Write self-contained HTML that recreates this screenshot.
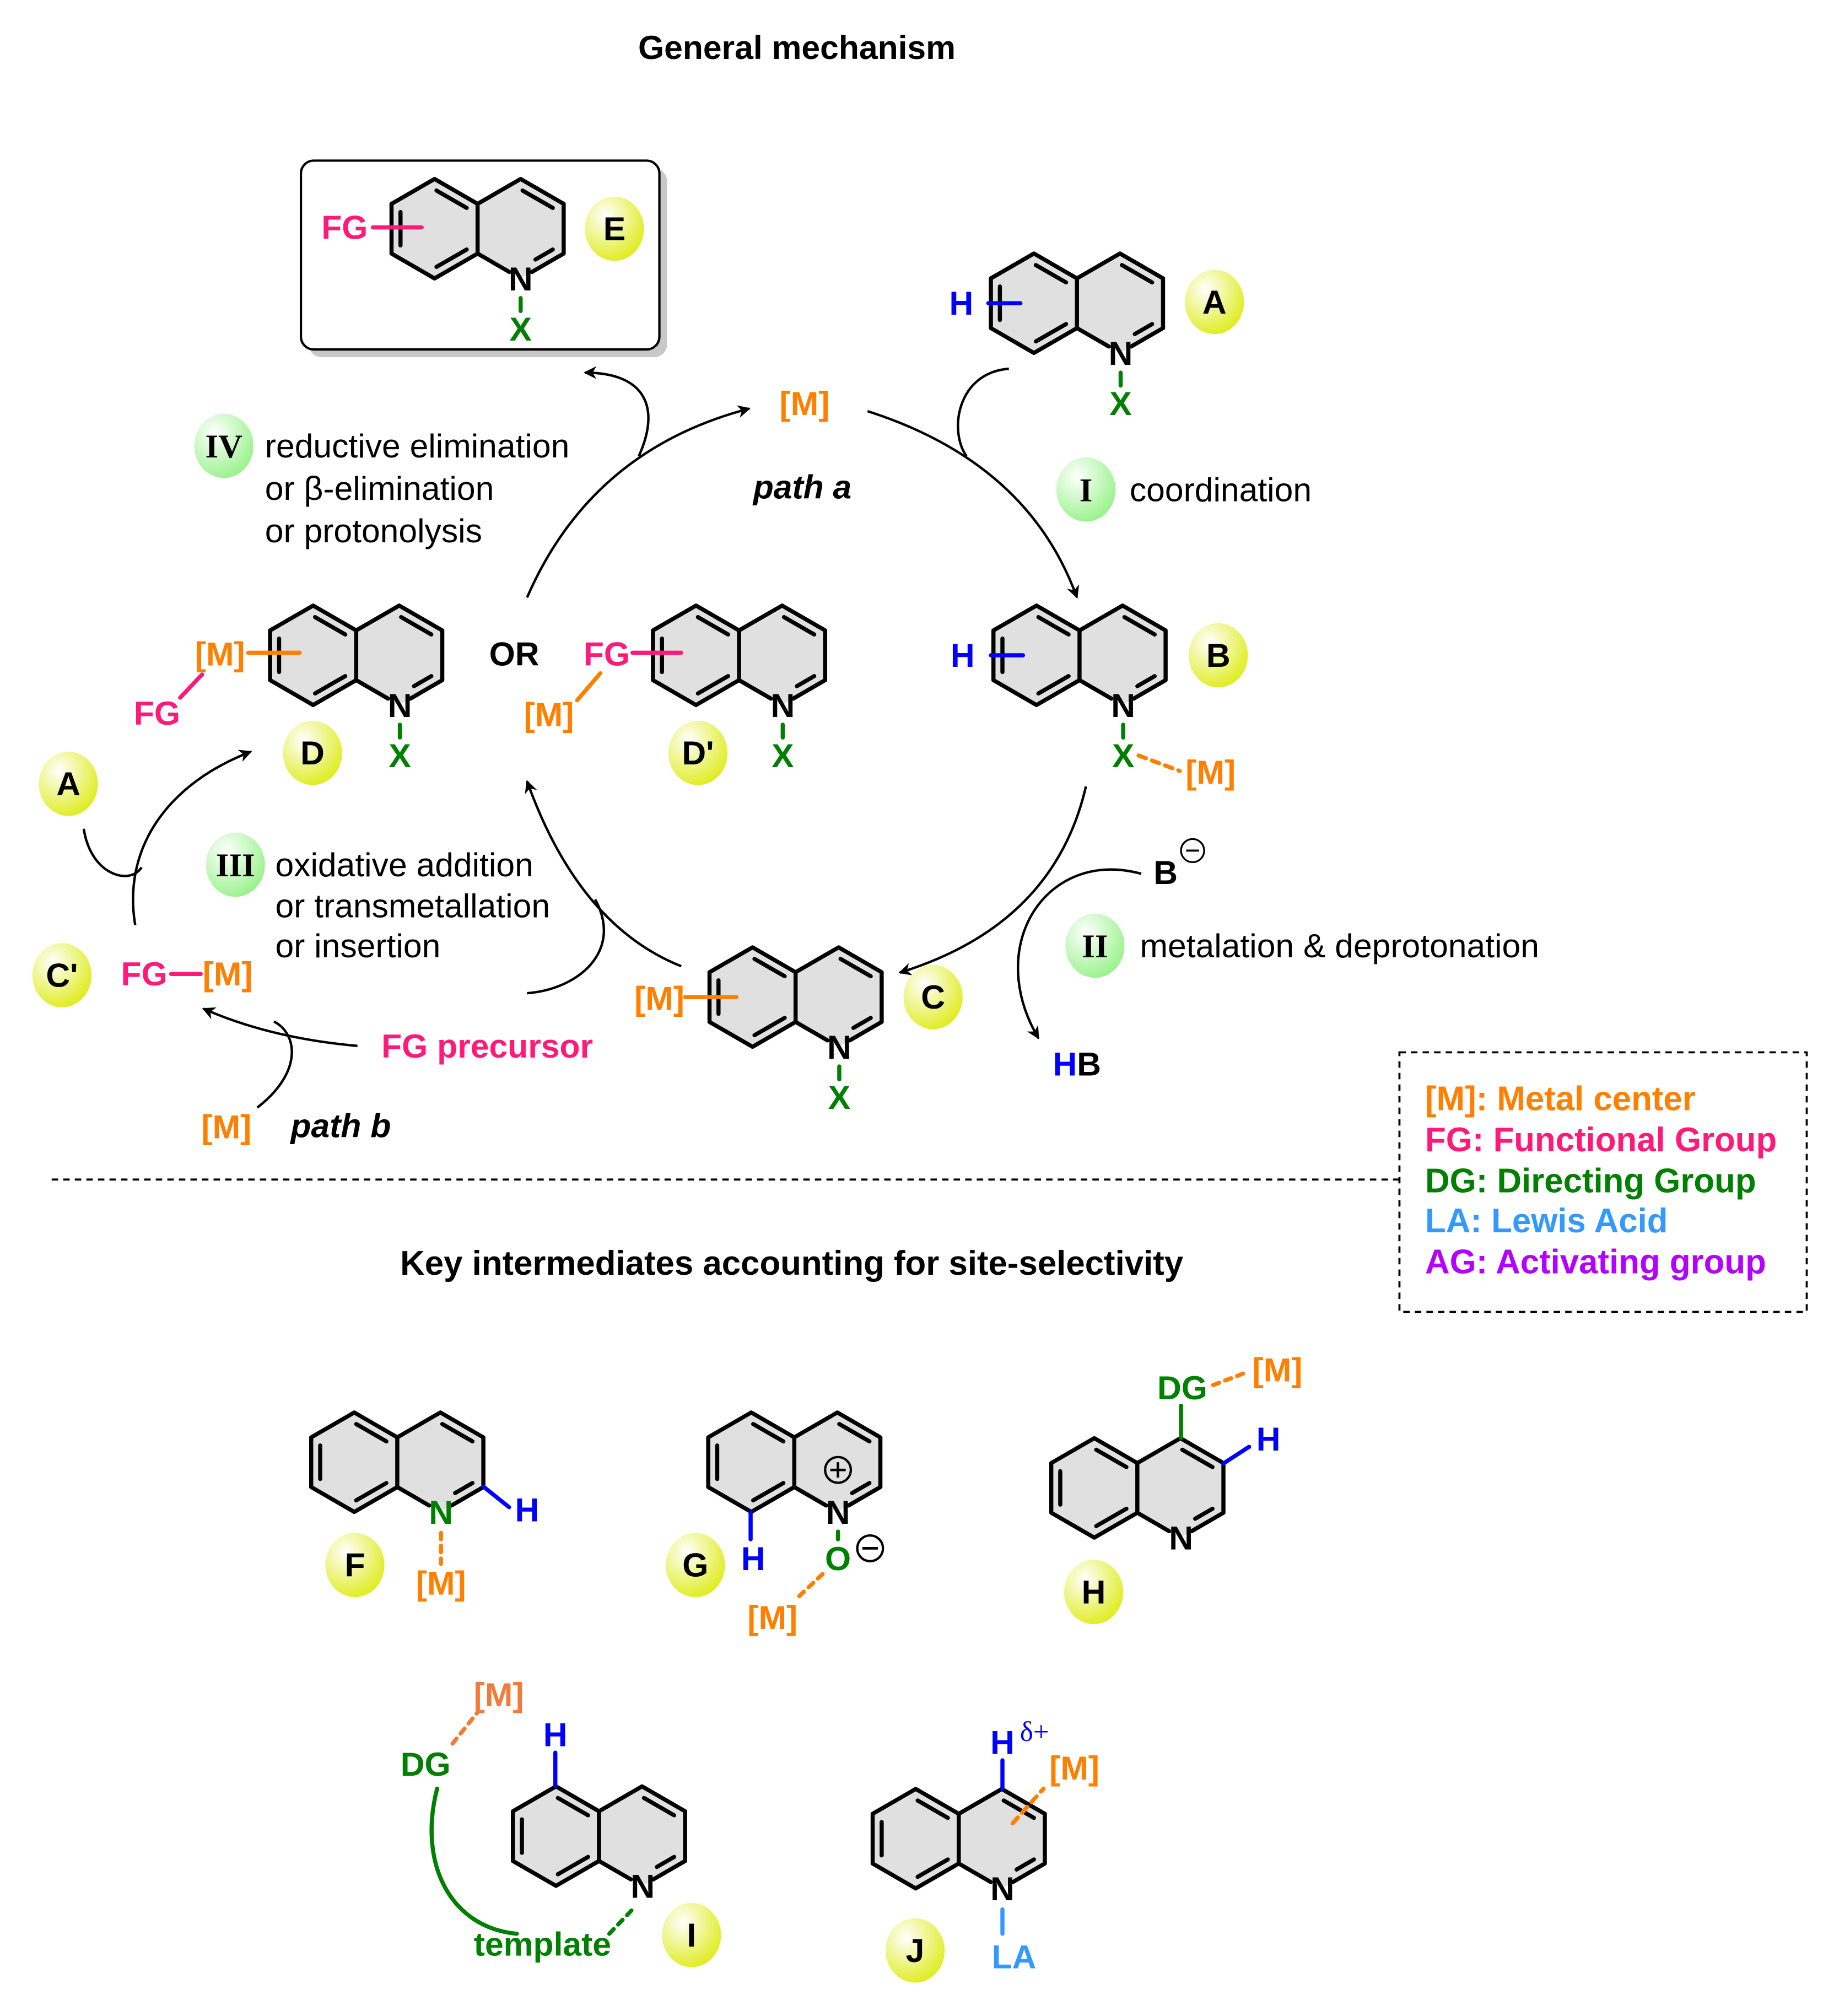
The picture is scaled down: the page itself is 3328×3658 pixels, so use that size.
<!DOCTYPE html>
<html><head><meta charset="utf-8"><style>
html,body{margin:0;padding:0;background:#fff}
svg{display:block}
text{font-family:"Liberation Sans",sans-serif}
.b{font-weight:bold}
</style></head><body>
<svg width="3328" height="3658" viewBox="0 0 1427 1569" xmlns="http://www.w3.org/2000/svg">
<defs>
<radialGradient id="gy" cx="0.35" cy="0.3" r="0.75"><stop offset="0" stop-color="#ffffff"/><stop offset="1" stop-color="#dfec1c"/></radialGradient>
<radialGradient id="gg" cx="0.35" cy="0.3" r="0.75"><stop offset="0" stop-color="#ffffff"/><stop offset="1" stop-color="#98f28a"/></radialGradient>
<marker id="ar" viewBox="0 0 10 10" refX="9" refY="5" markerWidth="10" markerHeight="10" markerUnits="userSpaceOnUse" orient="auto"><path d="M0,0 L10,5 L0,10 L3,5 Z" fill="#000"/></marker>
<g id="q">
<polygon points="-33.5,-38.7 0,-19.35 33.5,-38.7 67,-19.35 67,19.35 33.5,38.7 0,19.35 -33.5,38.7 -67,19.35 -67,-19.35" fill="#e0e0e0"/>
<g stroke="#000" stroke-width="3.2" stroke-linecap="round" stroke-linejoin="round" fill="none">
<polyline points="24.8,33.7 0,19.35 -33.5,38.7 -67,19.35 -67,-19.35 -33.5,-38.7 0,-19.35 33.5,-38.7 67,-19.35 67,19.35 42.2,33.7"/>
<line x1="0" y1="-19.35" x2="0" y2="19.35"/>
<line x1="-32" y1="-29.7" x2="-8.5" y2="-16.2"/>
<line x1="-32" y1="29.7" x2="-8.5" y2="16.2"/>
<line x1="-60" y1="-13" x2="-60" y2="13"/>
<line x1="35" y1="-29.7" x2="58.5" y2="-16.2"/>
<line x1="58.5" y1="16.2" x2="45" y2="24"/>
</g>
</g>
</defs>

<text x="620" y="46" class="b" font-size="26" text-anchor="middle">General mechanism</text>

<rect x="240" y="131" width="279" height="147" rx="10" fill="#c8c8c8"/>
<rect x="234" y="125" width="279" height="147" rx="10" fill="#fff" stroke="#000" stroke-width="1.8"/>

<g font-size="26" class="b" text-anchor="middle">
<use href="#q" x="371.5" y="178"/>
<text x="405" y="226">N</text>
<line x1="405" y1="232" x2="405" y2="242" stroke="#008000" stroke-width="3.2" stroke-linecap="round"/>
<text x="405" y="265" fill="#008000">X</text>
<line x1="290" y1="177" x2="328" y2="177" stroke="#ff1a7a" stroke-width="3.2" stroke-linecap="round"/>
<text x="268" y="186" fill="#ff1a7a">FG</text>

<use href="#q" x="838" y="236"/>
<text x="872" y="284">N</text>
<line x1="872" y1="290" x2="872" y2="300" stroke="#008000" stroke-width="3.2" stroke-linecap="round"/>
<text x="872" y="323" fill="#008000">X</text>
<line x1="769" y1="236" x2="794" y2="236" stroke="#0000ff" stroke-width="3.2" stroke-linecap="round"/>
<text x="748" y="245" fill="#0000ff">H</text>

<use href="#q" x="840" y="510"/>
<text x="874" y="558">N</text>
<line x1="874" y1="564" x2="874" y2="574" stroke="#008000" stroke-width="3.2" stroke-linecap="round"/>
<text x="874" y="597" fill="#008000">X</text>
<line x1="886" y1="588" x2="918" y2="600" stroke="#ff7f00" stroke-width="3.2" stroke-dasharray="6,5" stroke-linecap="round"/>
<text x="942" y="610" fill="#ff7f00">[M]</text>
<line x1="771" y1="510" x2="796" y2="510" stroke="#0000ff" stroke-width="3.2" stroke-linecap="round"/>
<text x="749" y="519" fill="#0000ff">H</text>

<use href="#q" x="277" y="510"/>
<text x="311" y="558">N</text>
<line x1="311" y1="564" x2="311" y2="574" stroke="#008000" stroke-width="3.2" stroke-linecap="round"/>
<text x="311" y="597" fill="#008000">X</text>
<line x1="193" y1="508" x2="233" y2="508" stroke="#ff7f00" stroke-width="3.2" stroke-linecap="round"/>
<text x="171" y="518" fill="#ff7f00">[M]</text>
<line x1="140" y1="543" x2="157" y2="525" stroke="#ff1a7a" stroke-width="3.2" stroke-linecap="round"/>
<text x="122" y="564" fill="#ff1a7a">FG</text>
<text x="400" y="518" fill="#000">OR</text>

<use href="#q" x="575" y="510"/>
<text x="609" y="558">N</text>
<line x1="609" y1="564" x2="609" y2="574" stroke="#008000" stroke-width="3.2" stroke-linecap="round"/>
<text x="609" y="597" fill="#008000">X</text>
<line x1="492" y1="508" x2="530" y2="508" stroke="#ff1a7a" stroke-width="3.2" stroke-linecap="round"/>
<text x="472" y="518" fill="#ff1a7a">FG</text>
<line x1="449" y1="545" x2="467" y2="524" stroke="#ff7f00" stroke-width="3.2" stroke-linecap="round"/>
<text x="427" y="565" fill="#ff7f00">[M]</text>

<use href="#q" x="619" y="776"/>
<text x="653" y="824">N</text>
<line x1="653" y1="830" x2="653" y2="840" stroke="#008000" stroke-width="3.2" stroke-linecap="round"/>
<text x="653" y="863" fill="#008000">X</text>
<line x1="533" y1="776" x2="573" y2="776" stroke="#ff7f00" stroke-width="3.2" stroke-linecap="round"/>
<text x="513" y="786" fill="#ff7f00">[M]</text>

<text x="626" y="323" fill="#ff7f00">[M]</text>
<text x="112" y="767" fill="#ff1a7a">FG</text>
<line x1="133" y1="758" x2="156" y2="758" stroke="#ff1a7a" stroke-width="3.2" stroke-linecap="round"/>
<text x="177" y="767" fill="#ff7f00">[M]</text>
<text x="379" y="823" fill="#ff1a7a">FG precursor</text>
<text x="176" y="886" fill="#ff7f00">[M]</text>
<text x="907" y="688">B</text>
<text x="838" y="837"><tspan fill="#0000ff">H</tspan>B</text>
</g>
<circle cx="928" cy="662" r="9" fill="none" stroke="#000" stroke-width="1.4"/>
<line x1="923" y1="662" x2="933" y2="662" stroke="#000" stroke-width="1.6"/>

<g font-size="26" font-weight="bold" font-style="italic">
<text x="586" y="388">path a</text>
<text x="226" y="885">path b</text>
</g>

<g font-size="26">
<text x="206" y="356">reductive elimination</text>
<text x="206" y="389">or β-elimination</text>
<text x="206" y="422">or protonolysis</text>
<text x="879" y="390">coordination</text>
<text x="214" y="682">oxidative addition</text>
<text x="214" y="714">or transmetallation</text>
<text x="214" y="745">or insertion</text>
<text x="887" y="745">metalation &amp; deprotonation</text>
</g>

<g fill="none" stroke="#000" stroke-width="1.9">
<path d="M675,320 Q800,360 838,465" marker-end="url(#ar)"/>
<path d="M785,287 C745,290 738,335 752,355"/>
<path d="M845,612 Q820,720 700,757" marker-end="url(#ar)"/>
<path d="M888,680 C815,660 765,735 808,808" marker-end="url(#ar)"/>
<path d="M530,752 Q450,720 410,608" marker-end="url(#ar)"/>
<path d="M410,465 Q460,350 583,318" marker-end="url(#ar)"/>
<path d="M497,355 C515,315 500,290 455,290" marker-end="url(#ar)"/>
<path d="M410,773 C450,770 485,740 463,700"/>
<path d="M278,814 Q210,808 158,785" marker-end="url(#ar)"/>
<path d="M200,862 C235,835 232,805 213,795"/>
<path d="M105,720 C95,660 130,610 195,585" marker-end="url(#ar)"/>
<path d="M65,645 C70,680 100,690 110,675"/>
</g>

<g font-size="26" font-weight="bold" text-anchor="middle">
<ellipse cx="478" cy="178" rx="23" ry="25" fill="url(#gy)"/><text x="478" y="187">E</text>
<ellipse cx="945" cy="235" rx="23" ry="25" fill="url(#gy)"/><text x="945" y="244">A</text>
<ellipse cx="948" cy="510" rx="23" ry="25" fill="url(#gy)"/><text x="948" y="519">B</text>
<ellipse cx="243" cy="586" rx="23" ry="25" fill="url(#gy)"/><text x="243" y="595">D</text>
<ellipse cx="543" cy="586" rx="23" ry="25" fill="url(#gy)"/><text x="543" y="595">D'</text>
<ellipse cx="726" cy="776" rx="23" ry="25" fill="url(#gy)"/><text x="726" y="785">C</text>
<ellipse cx="48" cy="759" rx="23" ry="25" fill="url(#gy)"/><text x="48" y="768">C'</text>
<ellipse cx="53" cy="610" rx="23" ry="25" fill="url(#gy)"/><text x="53" y="619">A</text>
<ellipse cx="276" cy="1218" rx="23" ry="25" fill="url(#gy)"/><text x="276" y="1227">F</text>
<ellipse cx="541" cy="1218" rx="23" ry="25" fill="url(#gy)"/><text x="541" y="1227">G</text>
<ellipse cx="851" cy="1239" rx="23" ry="25" fill="url(#gy)"/><text x="851" y="1248">H</text>
<ellipse cx="538" cy="1506" rx="23" ry="25" fill="url(#gy)"/><text x="538" y="1515">I</text>
<ellipse cx="712" cy="1518" rx="23" ry="25" fill="url(#gy)"/><text x="712" y="1527">J</text>
</g>
<g font-size="26" font-weight="bold" text-anchor="middle">
<ellipse cx="174" cy="347" rx="23" ry="25" fill="url(#gg)"/><text x="174" y="356" style="font-family:'Liberation Serif',serif">IV</text>
<ellipse cx="845" cy="381" rx="23" ry="25" fill="url(#gg)"/><text x="845" y="390" style="font-family:'Liberation Serif',serif">I</text>
<ellipse cx="183" cy="673" rx="23" ry="25" fill="url(#gg)"/><text x="183" y="682" style="font-family:'Liberation Serif',serif">III</text>
<ellipse cx="852" cy="736" rx="23" ry="25" fill="url(#gg)"/><text x="852" y="745" style="font-family:'Liberation Serif',serif">II</text>
</g>

<line x1="40" y1="918" x2="1089" y2="918" stroke="#000" stroke-width="1.6" stroke-dasharray="5,4"/>
<rect x="1089" y="819" width="317" height="202" fill="none" stroke="#000" stroke-width="1.6" stroke-dasharray="5,4"/>
<g font-size="26.5" font-weight="bold">
<text x="1109" y="864" fill="#ff7f00">[M]: Metal center</text>
<text x="1109" y="896" fill="#ff1a7a">FG: Functional Group</text>
<text x="1109" y="928" fill="#008000">DG: Directing Group</text>
<text x="1109" y="959" fill="#3399ff">LA: Lewis Acid</text>
<text x="1109" y="991" fill="#b400ff">AG: Activating group</text>
<text x="616" y="992" text-anchor="middle" fill="#000">Key intermediates accounting for site-selectivity</text>
</g>

<g font-size="26" font-weight="bold" text-anchor="middle">
<use href="#q" x="309" y="1138"/>
<text x="343" y="1186" fill="#008000">N</text>
<line x1="376" y1="1157" x2="396" y2="1173" stroke="#0000ff" stroke-width="3.2" stroke-linecap="round"/>
<text x="410" y="1184" fill="#0000ff">H</text>
<line x1="343" y1="1193" x2="343" y2="1217" stroke="#ff7f00" stroke-width="3.2" stroke-dasharray="5,5" stroke-linecap="round"/>
<text x="343" y="1241" fill="#ff7f00">[M]</text>

<use href="#q" x="618" y="1138"/>
<text x="652" y="1186">N</text>
<circle cx="652" cy="1144" r="10" fill="none" stroke="#000" stroke-width="1.8"/>
<path d="M646,1144 h12 M652,1138 v12" stroke="#000" stroke-width="2"/>
<line x1="584" y1="1177" x2="584" y2="1198" stroke="#0000ff" stroke-width="3.2" stroke-linecap="round"/>
<text x="586" y="1222" fill="#0000ff">H</text>
<line x1="652" y1="1192" x2="652" y2="1198" stroke="#008000" stroke-width="3.2" stroke-linecap="round"/>
<text x="652" y="1222" fill="#008000">O</text>
<circle cx="677" cy="1205" r="10" fill="none" stroke="#000" stroke-width="1.8"/>
<line x1="671" y1="1205" x2="683" y2="1205" stroke="#000" stroke-width="2"/>
<line x1="640" y1="1225" x2="620" y2="1244" stroke="#ff7f00" stroke-width="3.2" stroke-dasharray="5,5" stroke-linecap="round"/>
<text x="601" y="1268" fill="#ff7f00">[M]</text>

<use href="#q" x="885" y="1158"/>
<text x="919" y="1206">N</text>
<line x1="919" y1="1119" x2="919" y2="1094" stroke="#008000" stroke-width="3.2" stroke-linecap="round"/>
<text x="920" y="1089" fill="#008000">DG</text>
<line x1="944" y1="1078" x2="970" y2="1068" stroke="#ff7f00" stroke-width="3.2" stroke-dasharray="5,5" stroke-linecap="round"/>
<text x="994" y="1075" fill="#ff7f00">[M]</text>
<line x1="952" y1="1139" x2="972" y2="1126" stroke="#0000ff" stroke-width="3.2" stroke-linecap="round"/>
<text x="987" y="1129" fill="#0000ff">H</text>

<use href="#q" x="466" y="1429"/>
<text x="500" y="1477">N</text>
<line x1="432" y1="1390" x2="432" y2="1364" stroke="#0000ff" stroke-width="3.2" stroke-linecap="round"/>
<text x="432" y="1359" fill="#0000ff">H</text>
<text x="331" y="1382" fill="#008000">DG</text>
<line x1="352" y1="1357" x2="372" y2="1332" stroke="#f47a3a" stroke-width="3.2" stroke-dasharray="5,5" stroke-linecap="round"/>
<text x="388" y="1328" fill="#f47a3a">[M]</text>
<path d="M340,1392 C325,1450 350,1500 402,1505" fill="none" stroke="#008000" stroke-width="3.2" stroke-linecap="round"/>
<text x="422" y="1522" fill="#008000">template</text>
<line x1="474" y1="1505" x2="494" y2="1484" stroke="#008000" stroke-width="3.2" stroke-dasharray="5,5" stroke-linecap="round"/>

<use href="#q" x="746" y="1431"/>
<text x="780" y="1479">N</text>
<line x1="780" y1="1392" x2="780" y2="1370" stroke="#0000ff" stroke-width="3.2" stroke-linecap="round"/>
<text x="780" y="1365" fill="#0000ff">H</text>
<text x="805" y="1355" fill="#0000ff" font-weight="normal" font-size="22" style="font-family:'Liberation Serif',serif">δ+</text>
<line x1="788" y1="1419" x2="812" y2="1392" stroke="#ff7f00" stroke-width="3.2" stroke-dasharray="6,5" stroke-linecap="round"/>
<text x="836" y="1385" fill="#ff7f00">[M]</text>
<line x1="780" y1="1486" x2="780" y2="1505" stroke="#3399ff" stroke-width="3.2" stroke-linecap="round"/>
<text x="789" y="1532" fill="#3399ff">LA</text>
</g>
</svg>
</body></html>
